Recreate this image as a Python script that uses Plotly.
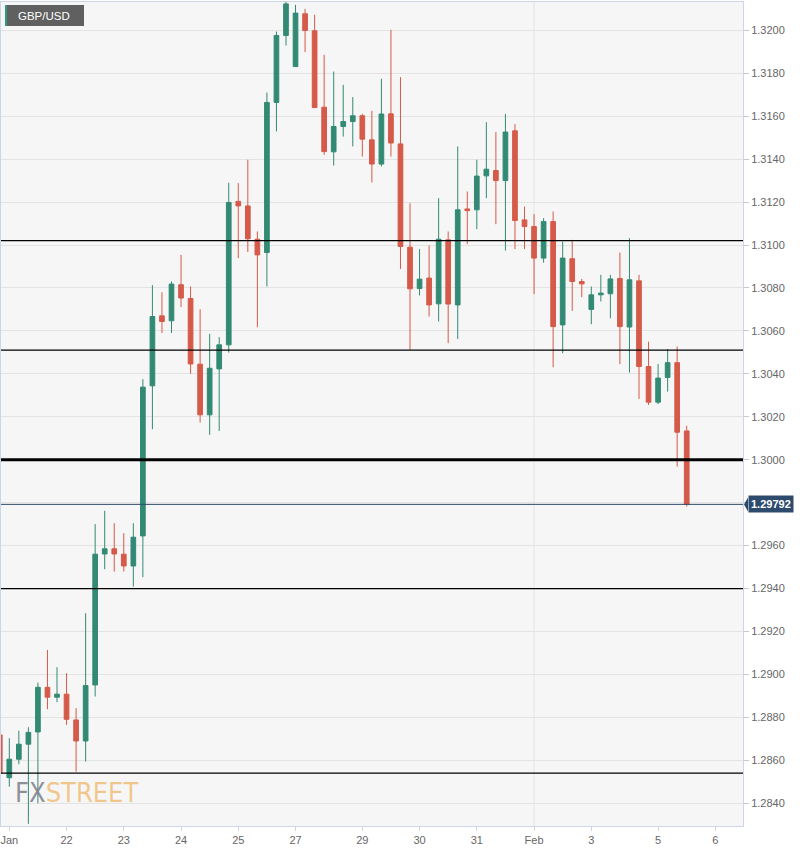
import plotly.graph_objects as go

# ---- data (4-hour GBP/USD candles, index = candle number) ----
opens = [1.28718, 1.28519, 1.28605, 1.28675, 1.28732, 1.28940, 1.28894, 1.28908, 1.28788, 1.28690,
         1.28951, 1.29561, 1.29585, 1.29560, 1.29505, 1.29645, 1.30344, 1.30670, 1.30647, 1.30815,
         1.30751, 1.30445, 1.30209, 1.30423, 1.30535, 1.31203, 1.31182, 1.31027, 1.30965, 1.31664,
         1.31976, 1.31831, 1.32077, 1.31998, 1.31642, 1.31434, 1.31552, 1.31575, 1.31602, 1.31490,
         1.31377, 1.31611, 1.31471, 1.30990, 1.30797, 1.30846, 1.30726, 1.31024, 1.30721, 1.31168,
         1.31164, 1.31322, 1.31347, 1.31300, 1.31532, 1.31117, 1.31086, 1.30939, 1.31109, 1.30628,
         1.30936, 1.30830, 1.30700, 1.30768, 1.30773, 1.30844, 1.30618, 1.30833, 1.30434, 1.30268,
         1.30383, 1.30452, 1.30134]
highs = [1.28764, 1.28703, 1.28738, 1.28754, 1.28962, 1.29114, 1.29034, 1.29006, 1.28843, 1.29285,
         1.29700, 1.29762, 1.29704, 1.29658, 1.29704, 1.30375, 1.30813, 1.30780, 1.30830, 1.30954,
         1.30807, 1.30701, 1.30586, 1.30571, 1.31290, 1.31288, 1.31397, 1.31063, 1.31710, 1.31994,
         1.32134, 1.32119, 1.32100, 1.32072, 1.31886, 1.31808, 1.31746, 1.31689, 1.31611, 1.31625,
         1.31774, 1.32002, 1.31782, 1.31195, 1.30981, 1.30998, 1.31218, 1.31063, 1.31459, 1.31249,
         1.31397, 1.31572, 1.31526, 1.31610, 1.31563, 1.31179, 1.31144, 1.31125, 1.31156, 1.31016,
         1.31024, 1.30842, 1.30807, 1.30861, 1.30861, 1.30965, 1.31032, 1.30861, 1.30550, 1.30446,
         1.30515, 1.30527, 1.30158]
lows = [1.28387, 1.28477, 1.28582, 1.28304, 1.28400, 1.28838, 1.28871, 1.28765, 1.28547, 1.28594,
        1.28897, 1.29490, 1.29479, 1.29479, 1.29409, 1.29453, 1.30142, 1.30590, 1.30590, 1.30711,
        1.30400, 1.30173, 1.30116, 1.30134, 1.30499, 1.30939, 1.30967, 1.30617, 1.30807, 1.31529,
        1.31929, 1.31831, 1.31898, 1.31638, 1.31420, 1.31370, 1.31505, 1.31459, 1.31412, 1.31291,
        1.31366, 1.31412, 1.30888, 1.30512, 1.30765, 1.30667, 1.30644, 1.30543, 1.30562, 1.31004,
        1.31074, 1.31218, 1.31097, 1.30974, 1.30981, 1.30981, 1.30771, 1.30918, 1.30431, 1.30496,
        1.30693, 1.30757, 1.30631, 1.30737, 1.30659, 1.30445, 1.30406, 1.30283, 1.30255, 1.30259,
        1.30317, 1.29968, 1.29782]
closes = [1.28541, 1.28605, 1.28675, 1.28730, 1.28940, 1.28894, 1.28908, 1.28791, 1.28690, 1.28948,
          1.29560, 1.29585, 1.29561, 1.29505, 1.29639, 1.30338, 1.30667, 1.30644, 1.30818, 1.30753,
          1.30446, 1.30209, 1.30426, 1.30535, 1.31198, 1.31182, 1.31029, 1.30954, 1.31664, 1.31976,
          1.32123, 1.32080, 1.31999, 1.31640, 1.31435, 1.31552, 1.31575, 1.31602, 1.31493, 1.31377,
          1.31610, 1.31475, 1.30993, 1.30796, 1.30841, 1.30721, 1.31027, 1.30725, 1.31164, 1.31160,
          1.31321, 1.31353, 1.31300, 1.31526, 1.31114, 1.31086, 1.30939, 1.31109, 1.30620, 1.30939,
          1.30830, 1.30819, 1.30768, 1.30776, 1.30842, 1.30620, 1.30838, 1.30434, 1.30268, 1.30380,
          1.30452, 1.30128, 1.29792]
candle_index = list(range(len(opens)))

tick_positions = [1, 7, 13, 19, 25, 31, 38, 44, 50, 56, 62, 69, 75]
tick_labels = ["Jan", "22", "23", "24", "25", "27", "29", "30", "31", "Feb", "3", "5", "6"]
month_start_position = 56

price_ticks = [1.2840, 1.2860, 1.2880, 1.2900, 1.2920, 1.2940, 1.2960, 1.2980, 1.3000,
               1.3020, 1.3040, 1.3060, 1.3080, 1.3100, 1.3120, 1.3140, 1.3160, 1.3180, 1.3200]
level_lines = [1.3102, 1.3051, 1.3000, 1.2940, 1.2854]
major_level = 1.3000
last_price = 1.29792
symbol = "GBP/USD"

# ---- styles ----
GREEN = "#338a74"
RED = "#d55a49"
AXIS = "#ccd6eb"
GRID = "#e3e3e3"
LABEL = "#666666"
PRICE_BLUE = "#2e4b6e"

# hide the tick label that sits under the last-price label
price_tick_text = ["" if abs(t - last_price) < 0.001 else "%.4f" % t for t in price_ticks]

fig = go.Figure()
fig.add_trace(go.Candlestick(
    x=candle_index, open=opens, high=highs, low=lows, close=closes,
    increasing=dict(line=dict(color=GREEN, width=1), fillcolor=GREEN),
    decreasing=dict(line=dict(color=RED, width=1), fillcolor=RED),
    whiskerwidth=0, showlegend=False, hoverinfo="skip",
))

shapes = []
shapes.append(dict(type="line", xref="x", yref="paper", x0=month_start_position, x1=month_start_position,
                   y0=0, y1=1, line=dict(color=GRID, width=1), layer="below"))
for lv in level_lines:
    shapes.append(dict(type="line", xref="paper", yref="y", x0=0, x1=1, y0=lv, y1=lv,
                       line=dict(color="#000000", width=3 if lv == major_level else 1.2), layer="above"))
shapes.append(dict(type="line", xref="paper", yref="y", x0=0, x1=1, y0=last_price, y1=last_price,
                   line=dict(color=PRICE_BLUE, width=1), layer="above"))

# plot area in px: x 1..743, y 2..826
PW, PH = 742.0, 824.0
def px_x(px):
    return (px - 1) / PW
def px_y(py):
    return (826 - py) / PH

shapes.append(dict(type="rect", xref="paper", yref="paper", x0=px_x(5), x1=px_x(84), y0=px_y(26), y1=px_y(5),
                   fillcolor="#606060", line=dict(width=0), layer="above"))
shapes.append(dict(type="rect", xref="paper", yref="paper", x0=px_x(5), x1=px_x(7), y0=px_y(26), y1=px_y(5),
                   fillcolor="#2e9b7c", line=dict(width=0), layer="above"))
shapes.append(dict(type="path", xref="paper", yref="paper",
                   path="M %f,%f L %f,%f L %f,%f Z" % (px_x(748), px_y(497.5), px_x(744), px_y(504.5), px_x(748), px_y(511.5)),
                   fillcolor=PRICE_BLUE, line=dict(width=0), layer="above"))

annotations = [
    dict(xref="paper", yref="paper", x=px_x(16), y=px_y(15.5), xanchor="left", yanchor="middle",
         text=symbol, showarrow=False, font=dict(family="Liberation Sans, Arial", size=11.5, color="#ffffff")),
    dict(xref="paper", yref="y", x=px_x(748), y=last_price, xanchor="left", yanchor="middle",
         text="<b>%.5f</b>" % last_price, showarrow=False, bgcolor=PRICE_BLUE, borderpad=2,
         font=dict(family="Liberation Sans, Arial", size=11, color="#ffffff")),
    dict(xref="paper", yref="paper", x=px_x(13), y=px_y(792), xanchor="left", yanchor="middle",
         text="<span style='color:rgba(125,125,135,0.85)'>FX</span><span style='color:rgba(240,190,120,0.85)'>STREET</span>",
         showarrow=False, font=dict(family="Liberation Sans Narrow, DejaVu Sans Condensed", size=27)),
]

fig.update_layout(
    width=808, height=852, autosize=False,
    margin=dict(l=1, r=65, t=2, b=26, pad=0),
    paper_bgcolor="#ffffff", plot_bgcolor="#f6f6f6",
    showlegend=False, shapes=shapes, annotations=annotations,
    font=dict(family="Liberation Sans, Arial", size=11, color=LABEL),
    xaxis=dict(range=[0.13, 77.9], rangeslider=dict(visible=False), showgrid=False, zeroline=False,
               tickmode="array", tickvals=tick_positions, ticktext=tick_labels,
               ticks="outside", ticklen=4, tickcolor=AXIS, showline=True, linecolor=AXIS, linewidth=1,
               mirror=True, tickfont=dict(size=11, color=LABEL)),
    yaxis=dict(side="right", range=[1.28294, 1.321318], tickmode="array", tickvals=price_ticks,
               ticktext=price_tick_text, showgrid=True, gridcolor=GRID, gridwidth=1, zeroline=False,
               ticks="outside", ticklen=5, tickcolor="#c8c8c8", showline=True, linecolor=AXIS,
               linewidth=1, mirror=True, tickfont=dict(size=11, color=LABEL)),
)

fig.write_html("out.html")
